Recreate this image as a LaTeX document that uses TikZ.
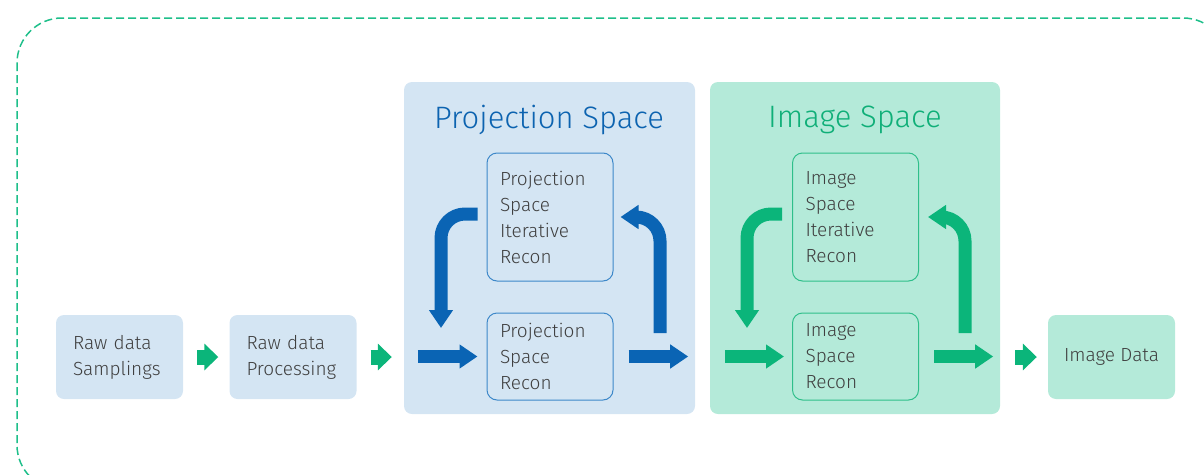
\documentclass[tikz,border=0pt]{standalone}
\usepackage{fontspec}
\setmainfont{Fira Sans Light}
\usetikzlibrary{arrows.meta}
\hyphenpenalty=10000
\exhyphenpenalty=10000
\definecolor{lblue}{HTML}{D4E5F3}
\definecolor{lgreen}{HTML}{B4EAD9}
\definecolor{dblue}{HTML}{0A64B4}
\definecolor{bblue}{HTML}{3D88C9}
\definecolor{tblue}{HTML}{0C63B0}
\definecolor{dgreen}{HTML}{0BB57A}
\definecolor{bgreen}{HTML}{2FBF8A}
\definecolor{tgreen}{HTML}{0FAF78}
\definecolor{txt}{HTML}{3F3F3F}
\definecolor{dashgreen}{HTML}{1EBF8A}
\begin{document}
\begin{tikzpicture}[x=1pt,y=-1pt,
  lbl/.style={font=\fontsize{19}{26}\selectfont, text=txt},
  rawbox/.style={lbl, rounded corners=8pt, minimum height=84pt, inner xsep=17pt, text width=93pt, align=left},
  panel/.style={rounded corners=8pt, minimum width=291pt, minimum height=332pt},
  innerbox/.style={lbl, draw, line width=1pt, rounded corners=10pt, inner xsep=13pt, text width=100pt, align=left},
  title/.style={font=\fontsize{31}{36}\selectfont},
  smallarr/.style={draw=dgreen, line width=15pt, -{Triangle[width=26pt,length=14pt]}},
  bigarr/.style={line width=13pt, -{Triangle[width=23pt,length=18pt]}},
]
\useasboundingbox (0,0) rectangle (1204,474);
\clip (0,0) rectangle (1204,474);
\draw[draw=dashgreen, line width=1.5pt, dash pattern=on 8pt off 4pt, rounded corners=45pt] (17,18) rectangle (1228,490);

% panels
\node[panel, fill=lblue] (pp) at (549.5,248) {};
\node[panel, fill=lgreen, minimum width=290pt] (ip) at (855,248) {};
\node[title, text=tblue] (pt) at (549,120) {Projection Space};
\node[title, text=tgreen] (it) at (855,120) {Image Space};

% outer boxes
\node[rawbox, fill=lblue] (r1) at (119.5,357) {Raw data\\Samplings};
\node[rawbox, fill=lblue] (r2) at (293,357) {Raw data\\Processing};
\node[lbl, rounded corners=8pt, fill=lgreen, minimum width=127pt, minimum height=84pt] (out) at (1111.5,357) {Image Data};

% inner boxes
\node[innerbox, draw=bblue, minimum height=128pt] (ptop) at (550,217) {Projection\\Space\\Iterative\\Recon};
\node[innerbox, draw=bblue, minimum height=87pt] (pbot) at (550,356.5) {Projection\\Space\\Recon};
\node[innerbox, draw=bgreen, minimum height=128pt] (itop) at (855.5,217) {Image\\Space\\Iterative\\Recon};
\node[innerbox, draw=bgreen, minimum height=87pt] (ibot) at (855.5,356.5) {Image\\Space\\Recon};

% small green arrows
\draw[smallarr, shorten <=14pt, shorten >=11pt] (r1.east) -- (r2.west);
\draw[smallarr, shorten <=14pt, shorten >=12pt] (r2.east) -- (pp.west |- r2.east);
\draw[smallarr, shorten <=15pt, shorten >=11pt] (ip.east |- out.west) -- (out.west);

% straight big arrows
\draw[bigarr, draw=dblue, shorten <=14pt, shorten >=9pt] (pp.west |- pbot.west) -- (pbot.west);
\draw[bigarr, draw=dblue, shorten <=15pt, shorten >=7pt] (pbot.east) -- (pp.east |- pbot.east);
\draw[bigarr, draw=dgreen, shorten <=15pt, shorten >=8pt] (ip.west |- ibot.west) -- (ibot.west);
\draw[bigarr, draw=dgreen, shorten <=15pt, shorten >=7pt] (ibot.east) -- (ip.east |- ibot.east);

% loop arrows
\coordinate (pl) at (441,328);
\coordinate (pr) at (660,333);
\coordinate (il) at (747,328);
\coordinate (ir) at (965,333);
\draw[bigarr, draw=dblue, rounded corners=24pt] ([xshift=-9pt,yshift=3pt]ptop.west) -| (pl);
\draw[bigarr, draw=dblue, rounded corners=24pt] (pr) |- ([xshift=7pt]ptop.east);
\draw[bigarr, draw=dgreen, rounded corners=24pt] ([xshift=-10pt,yshift=3pt]itop.west) -| (il);
\draw[bigarr, draw=dgreen, rounded corners=24pt] (ir) |- ([xshift=9pt]itop.east);
\end{tikzpicture}
\end{document}
